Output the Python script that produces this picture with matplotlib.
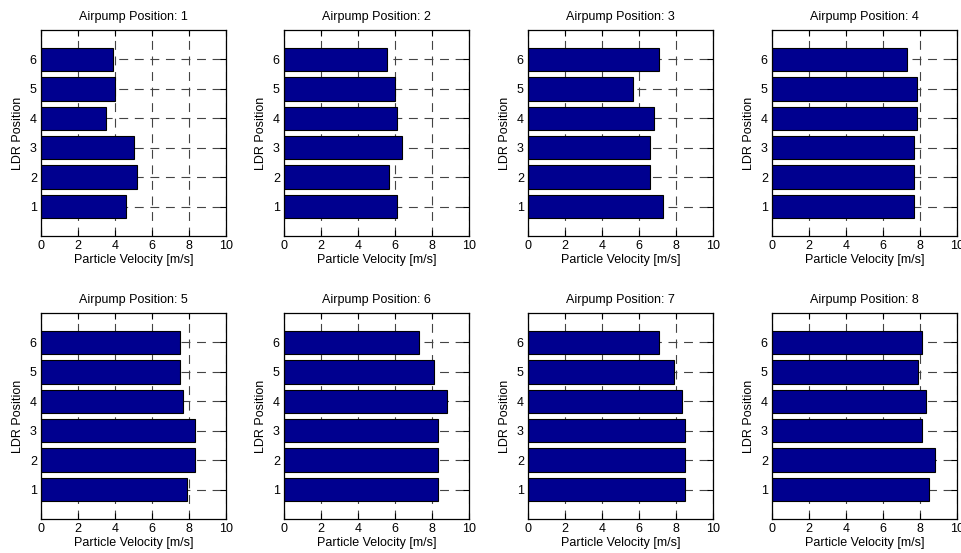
import matplotlib
matplotlib.use("Agg")
import matplotlib.pyplot as plt
import numpy as np

plt.rcParams['font.family'] = ['Liberation Sans', 'DejaVu Sans']

ldr_positions = [1, 2, 3, 4, 5, 6]
airpump_positions = [1, 2, 3, 4, 5, 6, 7, 8]
vel_1 = [4.6, 5.2, 5.0, 3.5, 4.0, 3.9]
vel_2 = [6.1, 5.65, 6.4, 6.1, 6.0, 5.55]
vel_3 = [7.3, 6.6, 6.6, 6.8, 5.65, 7.1]
vel_4 = [7.65, 7.65, 7.65, 7.85, 7.85, 7.3]
vel_5 = [7.9, 8.3, 8.3, 7.7, 7.5, 7.5]
vel_6 = [8.3, 8.3, 8.3, 8.8, 8.1, 7.3]
vel_7 = [8.5, 8.5, 8.5, 8.3, 7.9, 7.1]
vel_8 = [8.5, 8.8, 8.1, 8.3, 7.9, 8.1]
velocities = [vel_1, vel_2, vel_3, vel_4, vel_5, vel_6, vel_7, vel_8]
x_ticks = [0, 2, 4, 6, 8, 10]

W, H = 962, 553
fig = plt.figure(figsize=(W / 100, H / 100), dpi=100)

lefts = [41, 284, 528, 772]
tops = [30, 313]
aw, ah = 185, 206

fs = 9
for i, (ap, vals) in enumerate(zip(airpump_positions, velocities)):
    r, c = divmod(i, 4)
    l = lefts[c]
    t = tops[r]
    ax = fig.add_axes([l / W, 1 - (t + ah) / H, aw / W, ah / H])
    ax.barh(ldr_positions, vals, height=0.8, color='#00008F',
            edgecolor='black', linewidth=0.8, zorder=3)
    ax.set_xlim(0, 10)
    ax.set_ylim(0, 7)
    ax.set_xticks(x_ticks)
    ax.set_yticks(ldr_positions)
    ax.grid(True, linestyle=(0, (8, 6)), color='#444444', linewidth=0.8, zorder=0)
    ax.set_axisbelow(True)
    ax.tick_params(direction='in', top=True, right=True, length=4,
                   labelsize=fs, colors='black', width=0.8, pad=3)
    for s in ax.spines.values():
        s.set_linewidth(0.9)
        s.set_zorder(4)
    ax.set_title(f'Airpump Position: {ap}', fontsize=fs, pad=7)
    ax.set_xlabel('Particle Velocity [m/s]', fontsize=fs, labelpad=1)
    ax.set_ylabel('LDR Position', fontsize=fs, labelpad=4)

fig.savefig('out.png', dpi=100, facecolor='white')
